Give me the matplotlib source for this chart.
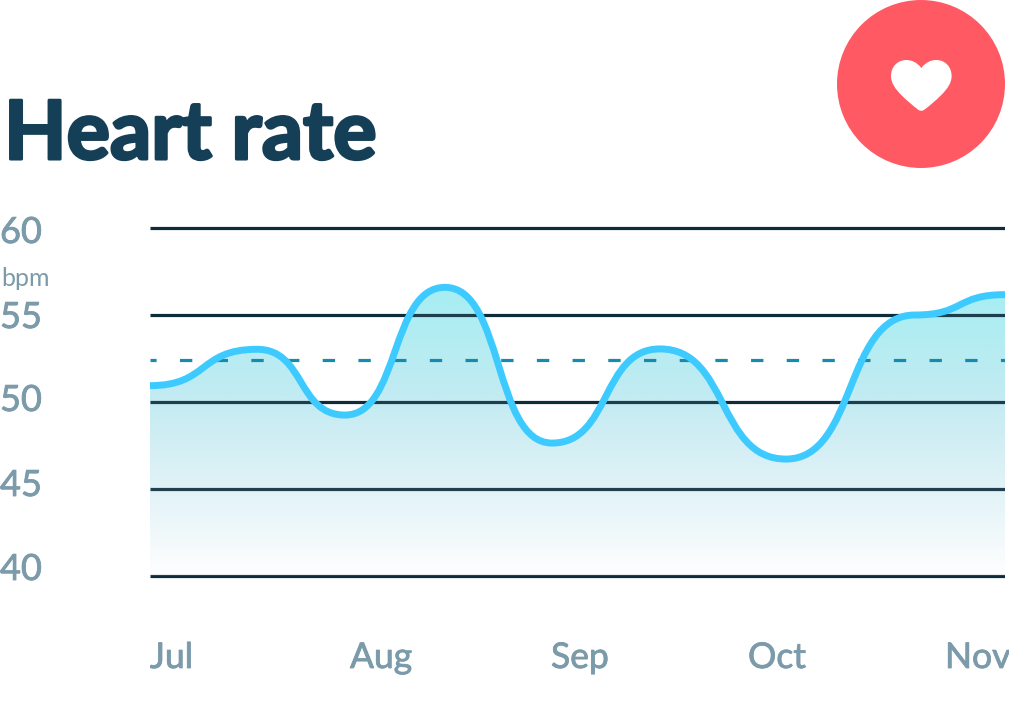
import numpy as np
import matplotlib
matplotlib.use("Agg")
import matplotlib.pyplot as plt
from matplotlib.path import Path
from matplotlib.patches import PathPatch, Circle
from matplotlib.colors import LinearSegmentedColormap
import matplotlib.patheffects as pe

plt.rcParams['lines.scale_dashes'] = False

# ---- data ----
title = "Heart rate"
unit = "bpm"
grid_values = [60, 55, 50, 45, 40]
average_bpm = 52.41
months = ["Jul", "Aug", "Sep", "Oct", "Nov"]
month_pos = [0, 200, 401, 598, 795]
time_pos = [0, 107, 195, 295, 402, 510, 636, 765, 855]
bpm = [50.94, 53.03, 49.25, 56.59, 47.64, 53.05, 46.72, 55.00, 56.17]

# ---- style / layout ----
W, H = 1009, 720
NAVY = "#143F56"
GRID = "#0E2C3C"
LABEL = "#7C9BAA"
LINE = "#3DCBFF"
DASH = "#168BAE"
RED = "#FF5A64"
FONT = "Lato"
ytick_px = [232.5, 317.5, 400.5, 485.5, 569.5]
month_baseline_px = 668
handle = 0.55


def px(x, y):
    return x / W, 1 - y / H


stroke = [pe.withStroke(linewidth=0.6, foreground=LABEL, joinstyle="round")]

fig = plt.figure(figsize=(W / 100, H / 100), dpi=100, facecolor="white")

top_v, bot_v = 62, 39
y60 = 228.0
ppu = 17.4
ax_top = y60 - (top_v - 60) * ppu
ax_bot = y60 + (60 - bot_v) * ppu
ax = fig.add_axes([150 / W, 1 - ax_bot / H, 855 / W, (ax_bot - ax_top) / H])
ax.axis("off")

# smooth path: Bezier segments with level tangents at each reading
verts = [(time_pos[0], bpm[0])]
codes = [Path.MOVETO]
for x0, y0, x1, y1 in zip(time_pos[:-1], bpm[:-1], time_pos[1:], bpm[1:]):
    t = (x1 - x0) * handle
    verts += [(x0 + t, y0), (x1 - t, y1), (x1, y1)]
    codes += [Path.CURVE4] * 3
curve = Path(verts, codes)
area = Path(verts + [(time_pos[-1], 40), (time_pos[0], 40), (time_pos[0], bpm[0])],
            codes + [Path.LINETO, Path.LINETO, Path.LINETO])

# gradient area
stops_y = [288, 400, 470, 540, 576]
stops_c = ["#A6EEF2", "#C3EBF2", "#DBF1F6", "#F2F9FB", "#FFFFFF"]
pos = [(y - stops_y[0]) / (stops_y[-1] - stops_y[0]) for y in stops_y]
cmap = LinearSegmentedColormap.from_list("fade", list(zip(pos, stops_c)))
grad = np.linspace(0, 1, 400).reshape(-1, 1)
clip = PathPatch(area, transform=ax.transData, fc="none", ec="none")
ax.add_patch(clip)
for z, a in [(1, 1.0), (3, 0.1)]:
    im = ax.imshow(grad, cmap=cmap, aspect="auto", origin="upper", alpha=a,
                   extent=[0, 855, 40, 40 + (576 - 288) / ppu], zorder=z)
    im.set_clip_path(clip)
ax.set_xlim(0, 855)
ax.set_ylim(bot_v, top_v)

for v in grid_values:
    ax.plot([0, 855], [v, v], color=GRID, lw=2.3, solid_capstyle="butt", zorder=2)

ax.plot([0, 855], [average_bpm, average_bpm], color=DASH, lw=2.3, dash_capstyle="butt",
        linestyle=(4.5, (8.9, 16.8)), zorder=4)
ax.add_patch(PathPatch(curve, fc="none", ec=LINE, lw=5, capstyle="butt", zorder=5))

# text
fig.text(*px(4, 159), title, family=FONT, weight="bold", fontsize=58.5, color=NAVY,
         ha="left", va="baseline",
         path_effects=[pe.withStroke(linewidth=2.2, foreground=NAVY, joinstyle="round")])
for v, yp in zip(grid_values, ytick_px):
    fig.text(*px(0, yp), str(v), family=FONT, fontsize=26, color=LABEL, ha="left",
             va="center", path_effects=stroke)
fig.text(*px(1, 278), unit, family=FONT, fontsize=18, color=LABEL, ha="left", va="center")
for m, p in zip(months, month_pos):
    ax.text(p, 1 - (month_baseline_px - ax_top) / (ax_bot - ax_top), m,
            transform=ax.get_xaxis_transform(), family=FONT, fontsize=25.5, color=LABEL,
            ha="left", va="baseline", clip_on=False, path_effects=stroke)

# badge
ov = fig.add_axes([0, 0, 1, 1], facecolor="none")
ov.set_xlim(0, W)
ov.set_ylim(H, 0)
ov.axis("off")
ov.add_patch(Circle((921, 84), 84, fc=RED, ec="none"))
cx = 921.3
half = [(0, 68), (-4.5, 62), (-10, 60), (-15, 60),
        (-24, 60), (-30.3, 67), (-30.3, 76),
        (-30.3, 83), (-26, 89), (-20, 95),
        (-14, 101), (-8, 106), (-4, 109),
        (-1.5, 111.4), (1.5, 111.4), (4, 109)]
right = [(8, 106), (14, 101), (20, 95),
         (26, 89), (30.3, 83), (30.3, 76),
         (30.3, 67), (24, 60), (15, 60),
         (10, 60), (4.5, 62), (0, 68)]
hv = [(cx + a, b_) for a, b_ in half + right]
hc = [Path.MOVETO] + [Path.CURVE4] * (len(hv) - 1)
ov.add_patch(PathPatch(Path(hv, hc), fc="white", ec="none"))

fig.savefig("out.png", dpi=100, facecolor="white")
